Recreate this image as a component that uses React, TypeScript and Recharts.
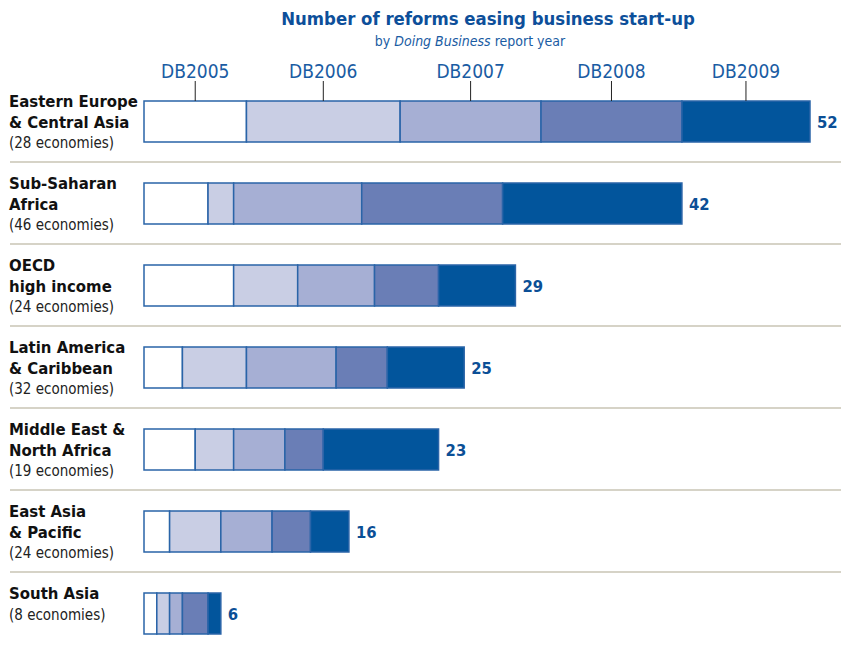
import React from 'react';
import { BarChart, Bar, XAxis, YAxis, LabelList } from 'recharts';

const regionLines: string[][] = [
  ['Eastern Europe', '& Central Asia'],
  ['Sub-Saharan', 'Africa'],
  ['OECD', 'high income'],
  ['Latin America', '& Caribbean'],
  ['Middle East &', 'North Africa'],
  ['East Asia', '& Pacific'],
  ['South Asia'],
];
const economies = [28, 46, 24, 32, 19, 24, 8];
const seriesNames = ['DB2005', 'DB2006', 'DB2007', 'DB2008', 'DB2009'];
const db2005 = [8, 5, 7, 3, 4, 2, 1];
const db2006 = [12, 2, 5, 5, 3, 4, 1];
const db2007 = [11, 10, 6, 7, 4, 4, 1];
const db2008 = [11, 11, 5, 4, 3, 3, 2];
const db2009 = [10, 14, 6, 6, 9, 3, 1];

const seriesValues = [db2005, db2006, db2007, db2008, db2009];
const colors = ['#ffffff', '#c9cee4', '#a6afd4', '#6a7eb6', '#02559c'];

const data = regionLines.map((lines, i) => {
  const row: any = { name: lines.join(' '), idx: i };
  seriesNames.forEach((s, k) => {
    row[s] = seriesValues[k][i];
  });
  row.total = seriesValues.reduce((a, arr) => a + arr[i], 0);
  return row;
});

const FONT = "'Liberation Sans Narrow','DejaVu Sans Condensed','Roboto Condensed','Open Sans',sans-serif";
const BLUE = '#1a5ca3';
const STROKE = '#2a64a8';

const RegionTick = (props: any) => {
  const { y, payload } = props;
  const i = regionLines.findIndex((l) => l.join(' ') === payload.value);
  const lines = regionLines[i] || [];
  const top = y - 41;
  return (
    <g>
      {lines.map((ln, k) => (
        <text key={k} x={9} y={top + 27 + k * 20.5} fontFamily={FONT} fontWeight={700} fontSize={16.6} fill="#111" style={{ fontStretch: 'condensed' }}>
          {ln}
        </text>
      ))}
      <text x={9} y={top + 27 + lines.length * 20.5} fontFamily={FONT} fontSize={15} fill="#222" style={{ fontStretch: 'condensed' }}>
        {`(${economies[i]} economies)`}
      </text>
      {i < regionLines.length - 1 && (
        <line x1={10} x2={841} y1={y + 41} y2={y + 41} stroke="#c9c5b5" strokeWidth={1.5} />
      )}
    </g>
  );
};

const makeHeader = (name: string) => (props: any) => {
  const { x, y, width, index } = props;
  if (index !== 0) return null;
  const cx = Number(x) + Number(width) / 2;
  return (
    <g>
      <line x1={cx} x2={cx} y1={Number(y) - 20} y2={Number(y)} stroke="#222" strokeWidth={1} />
      <text x={cx} y={Number(y) - 23} textAnchor="middle" fontFamily={FONT} fontSize={19} fill={BLUE} style={{ fontStretch: 'condensed' }}>
        {name}
      </text>
    </g>
  );
};

const TotalLabel = (props: any) => {
  const { x, y, width, height, value } = props;
  return (
    <text x={Number(x) + Number(width) + 7} y={Number(y) + Number(height) / 2 + 6} fontFamily={FONT} fontWeight={700} fontSize={16.5} fill="#0b4f96" style={{ fontStretch: 'condensed' }}>
      {value}
    </text>
  );
};

export default function App() {
  return (
    <div style={{ position: 'absolute', left: 0, top: 0, width: 841, height: 647, overflow: 'hidden', background: '#fff' }}>
      <svg width={841} height={60} style={{ position: 'absolute', left: 0, top: 0 }}>
        <text x={488} y={25} textAnchor="middle" fontFamily={FONT} fontWeight={700} fontSize={18.4} fill="#0d4f9a" style={{ fontStretch: 'condensed' }}>
          Number of reforms easing business start-up
        </text>
        <text x={470} y={46} textAnchor="middle" fontFamily={FONT} fontSize={14} fill="#1a5ca3" style={{ fontStretch: 'condensed' }}>
          by <tspan fontStyle="italic">Doing Business</tspan> report year
        </text>
      </svg>
      <div style={{ position: 'absolute', left: 0, top: 0 }}>
        <BarChart width={841} height={654} data={data} layout="vertical" margin={{ top: 80, right: 31, bottom: 0, left: 0 }} barSize={41}>
          <XAxis type="number" domain={[0, 52]} hide />
          <YAxis type="category" dataKey="name" width={144} axisLine={false} tickLine={false} tick={<RegionTick />} interval={0} />
          {seriesNames.map((s, k) => (
            <Bar key={s} dataKey={s} stackId="a" fill={colors[k]} stroke={STROKE} strokeWidth={1.5} isAnimationActive={false}>
              <LabelList dataKey={s} content={makeHeader(s)} />
              {k === seriesNames.length - 1 && <LabelList dataKey="total" content={<TotalLabel />} />}
            </Bar>
          ))}
        </BarChart>
      </div>
    </div>
  );
}
